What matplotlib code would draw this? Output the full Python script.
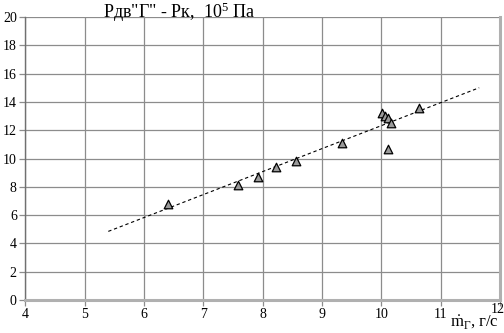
import matplotlib
matplotlib.use("Agg")
import matplotlib.pyplot as plt

# расход горючего, г/с и перепад давлений, 10^5 Па
m_g = [6.4, 7.58, 7.92, 8.22, 8.56, 9.34, 10.02, 10.07, 10.12, 10.17, 10.12, 10.64]
dp = [6.8, 8.1, 8.7, 9.4, 9.8, 11.1, 13.2, 13.0, 12.85, 12.5, 10.7, 13.6]

# линия тренда (концы)
trend_x = [5.4, 11.65]
trend_y = [4.85, 15.0]

x_ticks = [4, 5, 6, 7, 8, 9, 10, 11, 12]
y_ticks = [0, 2, 4, 6, 8, 10, 12, 14, 16, 18, 20]

plt.rcParams['font.family'] = ['Liberation Serif', 'DejaVu Serif']
plt.rcParams['mathtext.fontset'] = 'custom'
plt.rcParams['mathtext.rm'] = 'Liberation Serif'
plt.rcParams['mathtext.it'] = 'Liberation Serif'

fig = plt.figure(figsize=(5.04, 3.33), dpi=100)
ax = fig.add_axes([0.05, 0.099, 0.942, 0.85])

ax.set_xlim(4, 12)
ax.set_ylim(0, 20)
ax.set_xticks(x_ticks)
ax.set_yticks(y_ticks)
ax.set_xticklabels([str(t) if t != 12 else '' for t in x_ticks])
ax.grid(True, color='#8c8c8c', linewidth=0.9)
ax.set_axisbelow(True)
ax.tick_params(labelsize=10, length=4, width=0.9, color='#8c8c8c', pad=2)

ax.spines['left'].set_color('#707070')
ax.spines['left'].set_linewidth(1.0)
ax.spines['bottom'].set_color('#b0b0b0')
ax.spines['bottom'].set_linewidth(2.2)
ax.spines['right'].set_color('#b0b0b0')
ax.spines['right'].set_linewidth(2.2)
ax.spines['top'].set_visible(False)

ax.plot(trend_x, trend_y, color='black', linestyle=(0, (3, 2.5)), linewidth=0.8, zorder=3)
ax.scatter(m_g, dp, marker='^', s=38, facecolor='#9a9a9a', edgecolor='black',
           linewidth=0.9, zorder=4, clip_on=False)

fig.text(0.205, 0.962, 'Рдв"Г" - Рк,  10$^5$ Па', fontsize=13, va='center', ha='left')
fig.text(0.893, 0.034, r'$\dot{\mathrm{m}}_{\mathrm{Г}}$, г/с', fontsize=12, va='center', ha='left')
fig.text(0.988, 0.072, '12', fontsize=10, va='center', ha='center')

fig.savefig('out.png', dpi=100)
